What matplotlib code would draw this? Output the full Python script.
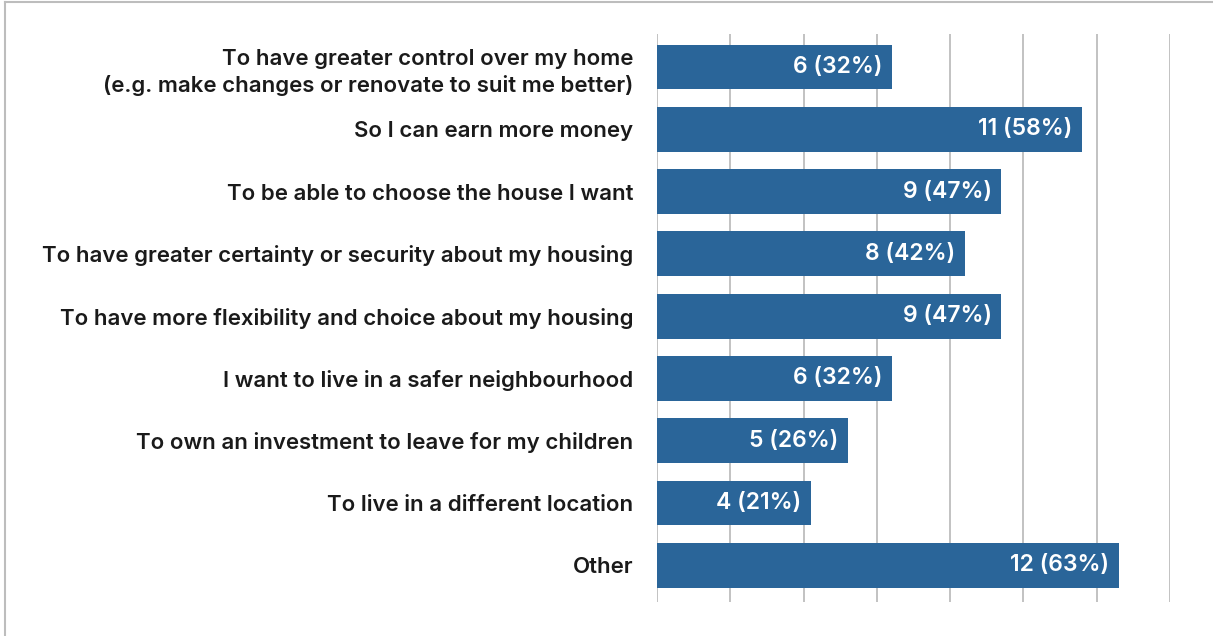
import matplotlib.pyplot as plt
from matplotlib.lines import Line2D

reasons = [
    'To have greater control over my home\n(e.g. make changes or renovate to suit me better)',
    'So I can earn more money',
    'To be able to choose the house I want',
    'To have greater certainty or security about my housing',
    'To have more flexibility and choice about my housing',
    'I want to live in a safer neighbourhood',
    'To own an investment to leave for my children',
    'To live in a different location',
    'Other',
]
counts = [6, 11, 9, 8, 9, 6, 5, 4, 12]
percents = [32, 58, 47, 42, 47, 32, 26, 21, 63]

bar_color = '#2a6599'
grid_color = '#b8b8b8'

plt.rcParams['font.family'] = ['Inter', 'DejaVu Sans']

fig = plt.figure(figsize=(12.13, 6.36), dpi=100)
ax = fig.add_axes([0.5416, 0.0535, 0.4230, 0.8930])

ypos = list(range(len(reasons)))
ax.barh(ypos, percents, height=0.72, color=bar_color, zorder=3)

for y, c, p in zip(ypos, counts, percents):
    ax.text(p - 1.3, y, f'{c} ({p}%)', ha='right', va='center',
            color='white', fontsize=16.5, fontweight='semibold', zorder=4)

ax.set_xlim(0, 70)
ax.set_ylim(8.59, -0.53)
ax.set_xticks(range(0, 71, 10))
ax.set_xticklabels([])
ax.set_yticks(ypos)
ax.set_yticklabels(reasons, fontsize=16, fontweight='semibold', color='#1a1a1a',
                   ha='right', multialignment='right', linespacing=1.4)
ax.tick_params(axis='y', length=0, pad=17)
ax.tick_params(axis='x', length=0)
ax.grid(axis='x', color=grid_color, linewidth=1.2, zorder=0)
for side in ax.spines:
    ax.spines[side].set_visible(False)

# thin frame along the top and left of the figure
fig.add_artist(Line2D([0.004, 1.0], [0.9965, 0.9965], color='#bdbdbd', linewidth=1.5))
fig.add_artist(Line2D([0.0045, 0.0045], [0.0, 0.9965], color='#bdbdbd', linewidth=1.5))

fig.savefig('out.png', dpi=100, facecolor='white')
